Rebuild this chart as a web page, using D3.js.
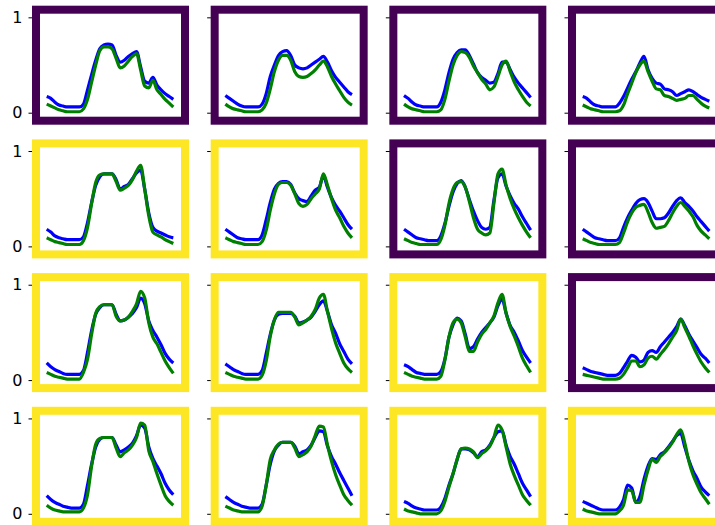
<!DOCTYPE html>
<html>
<head>
<meta charset="utf-8">
<script src="https://cdn.jsdelivr.net/npm/d3@7"></script>
<style>
  body { margin: 0; background: #fff; }
  text { font-family: 'DejaVu Sans', sans-serif; }
</style>
</head>
<body>
<svg id="main_svg" width="715" height="525"></svg>
<script>
// daily profiles, 32 samples each, one blue + one green per panel (row-major)
const blue_0_0 = [.17,.15,.11,.08,.07,.06,.06,.06,.06,.09,.24,.4,.55,.67,.71,.72,.71,.6,.53,.55,.59,.62,.64,.48,.33,.31,.37,.29,.24,.2,.17,.14];
const green_0_0 = [.09,.07,.05,.03,.02,.01,.01,.01,.01,.04,.14,.32,.5,.65,.69,.69,.67,.57,.47,.49,.54,.59,.62,.45,.28,.26,.34,.24,.19,.14,.1,.06];
const blue_0_1 = [.18,.15,.12,.09,.07,.06,.06,.06,.06,.09,.2,.38,.5,.6,.64,.65,.6,.5,.47,.46,.47,.5,.53,.56,.59,.53,.44,.37,.32,.27,.22,.19];
const green_0_1 = [.09,.06,.04,.03,.02,.01,.01,.01,.01,.03,.1,.25,.43,.55,.6,.6,.55,.43,.38,.37,.38,.41,.45,.5,.54,.48,.38,.3,.23,.16,.11,.08];
const blue_0_2 = [.18,.15,.11,.08,.07,.06,.06,.06,.06,.11,.24,.42,.56,.63,.66,.66,.6,.51,.42,.37,.34,.31,.32,.41,.53,.53,.45,.37,.31,.26,.21,.16];
const green_0_2 = [.09,.06,.04,.03,.02,.01,.01,.01,.01,.03,.14,.33,.5,.6,.64,.63,.58,.49,.42,.35,.3,.24,.27,.38,.5,.54,.43,.32,.24,.17,.11,.07];
const blue_0_3 = [.17,.15,.11,.08,.07,.06,.06,.06,.06,.1,.17,.26,.35,.43,.52,.59,.45,.36,.31,.3,.25,.24,.22,.18,.2,.22,.24,.22,.19,.16,.14,.12];
const green_0_3 = [.08,.06,.04,.03,.02,.01,.01,.01,.01,.02,.08,.2,.31,.42,.5,.54,.43,.33,.25,.24,.18,.17,.15,.13,.14,.15,.18,.18,.14,.1,.07,.05];

const blue_1_0 = [.18,.15,.11,.09,.08,.07,.07,.07,.07,.1,.25,.46,.64,.73,.76,.76,.76,.7,.6,.63,.65,.71,.77,.8,.6,.35,.2,.16,.14,.12,.1,.09];
const green_1_0 = [.09,.07,.05,.04,.03,.02,.02,.02,.02,.06,.2,.45,.67,.75,.76,.76,.76,.68,.59,.61,.64,.7,.79,.85,.6,.32,.15,.12,.1,.07,.05,.03];
const blue_1_1 = [.18,.15,.12,.09,.08,.07,.07,.07,.07,.12,.28,.46,.6,.66,.68,.68,.65,.56,.5,.48,.47,.53,.59,.62,.74,.62,.51,.43,.37,.3,.23,.18];
const green_1_1 = [.09,.07,.05,.04,.03,.02,.02,.02,.02,.05,.17,.38,.55,.65,.67,.67,.64,.55,.45,.42,.44,.5,.55,.6,.76,.64,.5,.38,.3,.21,.14,.09];
const blue_1_2 = [.18,.15,.12,.09,.08,.07,.06,.06,.06,.11,.24,.42,.57,.66,.69,.62,.49,.37,.27,.2,.18,.2,.48,.72,.76,.63,.53,.45,.39,.31,.24,.17];
const green_1_2 = [.08,.06,.04,.03,.02,.02,.02,.02,.02,.07,.22,.45,.6,.67,.68,.62,.47,.3,.18,.14,.12,.14,.45,.76,.81,.64,.5,.39,.3,.22,.15,.09];
const blue_1_3 = [.18,.15,.12,.09,.08,.07,.06,.06,.06,.09,.2,.3,.38,.45,.49,.5,.46,.37,.29,.29,.3,.35,.42,.48,.51,.46,.42,.37,.31,.26,.21,.16];
const green_1_3 = [.08,.06,.04,.03,.02,.02,.02,.02,.02,.04,.14,.26,.35,.41,.43,.44,.36,.25,.19,.2,.21,.27,.35,.42,.46,.42,.37,.31,.22,.16,.12,.08];

const blue_2_0 = [.18,.14,.11,.09,.07,.06,.06,.06,.06,.1,.29,.52,.69,.76,.79,.79,.79,.69,.62,.63,.66,.7,.76,.86,.8,.62,.52,.45,.37,.28,.22,.18];
const green_2_0 = [.08,.06,.04,.03,.02,.01,.01,.01,.01,.08,.22,.48,.7,.77,.79,.79,.79,.67,.62,.63,.66,.72,.8,.93,.86,.6,.45,.38,.29,.2,.13,.07];
const blue_2_1 = [.17,.14,.11,.09,.07,.06,.06,.06,.06,.1,.28,.48,.63,.69,.7,.7,.7,.67,.6,.61,.63,.66,.72,.79,.83,.72,.58,.49,.38,.3,.22,.17];
const green_2_1 = [.08,.06,.04,.03,.02,.01,.01,.01,.01,.05,.2,.46,.63,.71,.71,.71,.71,.66,.58,.6,.63,.67,.74,.86,.9,.72,.54,.39,.28,.18,.12,.08];
const blue_2_2 = [.16,.14,.11,.08,.07,.06,.06,.06,.06,.09,.22,.45,.58,.65,.62,.48,.33,.35,.43,.5,.55,.6,.66,.78,.85,.7,.57,.5,.41,.31,.24,.18];
const green_2_2 = [.08,.06,.04,.03,.02,.01,.01,.01,.01,.04,.21,.45,.6,.64,.6,.45,.3,.3,.4,.48,.53,.6,.67,.81,.9,.7,.56,.46,.35,.23,.15,.08];
const blue_2_3 = [.13,.11,.09,.08,.07,.06,.05,.05,.05,.07,.13,.2,.26,.24,.19,.21,.29,.31,.29,.35,.4,.45,.5,.56,.64,.57,.48,.41,.34,.27,.23,.18];
const green_2_3 = [.06,.05,.04,.03,.02,.01,.01,.01,.01,.02,.06,.13,.2,.2,.14,.16,.23,.25,.22,.27,.32,.38,.45,.52,.64,.55,.46,.36,.27,.19,.13,.08];

const blue_3_0 = [.19,.15,.12,.1,.08,.07,.06,.06,.06,.1,.3,.52,.7,.78,.8,.8,.8,.72,.65,.67,.7,.74,.82,.93,.9,.7,.58,.5,.42,.32,.25,.2];
const green_3_0 = [.09,.06,.04,.03,.02,.02,.02,.02,.02,.06,.2,.5,.73,.79,.8,.8,.8,.69,.6,.64,.67,.72,.8,.95,.93,.66,.55,.42,.3,.19,.13,.09];
const blue_3_1 = [.18,.15,.12,.1,.08,.07,.06,.06,.06,.1,.3,.52,.66,.72,.75,.75,.75,.71,.63,.65,.67,.72,.8,.87,.86,.71,.6,.52,.43,.35,.27,.19];
const green_3_1 = [.08,.06,.04,.03,.02,.02,.02,.02,.02,.08,.3,.57,.67,.73,.75,.75,.75,.69,.6,.62,.65,.71,.82,.92,.91,.72,.55,.41,.3,.2,.14,.09];
const blue_3_2 = [.13,.11,.08,.06,.05,.04,.04,.04,.04,.07,.16,.3,.42,.57,.68,.68,.67,.64,.6,.65,.67,.72,.8,.86,.87,.72,.6,.52,.42,.32,.25,.18];
const green_3_2 = [.05,.03,.02,.01,0,0,0,0,0,.03,.13,.28,.42,.57,.68,.69,.68,.65,.59,.63,.66,.71,.8,.93,.88,.7,.52,.4,.3,.2,.14,.09];
const blue_3_3 = [.13,.11,.09,.07,.05,.04,.04,.04,.04,.07,.15,.3,.27,.12,.18,.36,.5,.58,.57,.62,.65,.7,.76,.82,.84,.7,.56,.45,.37,.28,.23,.19];
const green_3_3 = [.05,.03,.02,.01,0,0,0,0,0,.03,.09,.25,.24,.12,.12,.3,.46,.57,.54,.6,.64,.69,.75,.83,.88,.74,.55,.41,.31,.22,.16,.1];

// 1 = purple frame, 0 = yellow frame
const frameClass = [
  [1, 1, 1, 1],
  [0, 0, 1, 1],
  [0, 0, 0, 1],
  [0, 0, 0, 0],
];
const yTicks = [0, 1];

const blueSeries = [
  [blue_0_0, blue_0_1, blue_0_2, blue_0_3],
  [blue_1_0, blue_1_1, blue_1_2, blue_1_3],
  [blue_2_0, blue_2_1, blue_2_2, blue_2_3],
  [blue_3_0, blue_3_1, blue_3_2, blue_3_3],
];
const greenSeries = [
  [green_0_0, green_0_1, green_0_2, green_0_3],
  [green_1_0, green_1_1, green_1_2, green_1_3],
  [green_2_0, green_2_1, green_2_2, green_2_3],
  [green_3_0, green_3_1, green_3_2, green_3_3],
];

const frameColor = d3.scaleOrdinal().domain([0, 1]).range(['#fde725', '#440154']);

// grid geometry (axes box = spine centres)
const x0 = 36, y0 = 9.7;
const colStep = 178.67, rowStep = 133.7;
const w = 149, h = 111;

const x = d3.scaleLinear().domain([0, 31]).range([10.7, 137.3]);
const y = d3.scaleLinear().domain([-0.084, 1.08]).range([h, 0]);

const line = d3.line()
  .x(function(d, i) { return x(i); })
  .y(function(d) { return y(d); })
  .curve(d3.curveMonotoneX);

const svg = d3.select('#main_svg');

for (let r = 0; r < 4; r++) {
  for (let c = 0; c < 4; c++) {
    const g = svg.append('g')
      .attr('transform', 'translate(' + (x0 + c * colStep) + ',' + (y0 + r * rowStep) + ')');

    // y axis ticks; labels only on the first column
    const axis = d3.axisLeft(y)
      .tickValues(yTicks)
      .tickSize(7.5)
      .tickPadding(6)
      .tickFormat(c === 0 ? d3.format('d') : '');
    const ax = g.append('g').call(axis);
    ax.select('.domain').remove();
    ax.selectAll('line').attr('stroke', '#000').attr('stroke-width', 1);
    ax.selectAll('text')
      .style('font-size', '16px')
      .style('font-family', "'DejaVu Sans', sans-serif")
      .attr('fill', '#000');

    g.append('path')
      .datum(blueSeries[r][c])
      .attr('d', line)
      .attr('fill', 'none')
      .attr('stroke', '#0000ff')
      .attr('stroke-width', 3.2)
      .attr('stroke-linejoin', 'round');

    g.append('path')
      .datum(greenSeries[r][c])
      .attr('d', line)
      .attr('fill', 'none')
      .attr('stroke', '#008000')
      .attr('stroke-width', 3.2)
      .attr('stroke-linejoin', 'round');

    // thick frame
    g.append('rect')
      .attr('width', w)
      .attr('height', h)
      .attr('fill', 'none')
      .attr('stroke', frameColor(frameClass[r][c]))
      .attr('stroke-width', 8);
  }
}
</script>
</body>
</html>
